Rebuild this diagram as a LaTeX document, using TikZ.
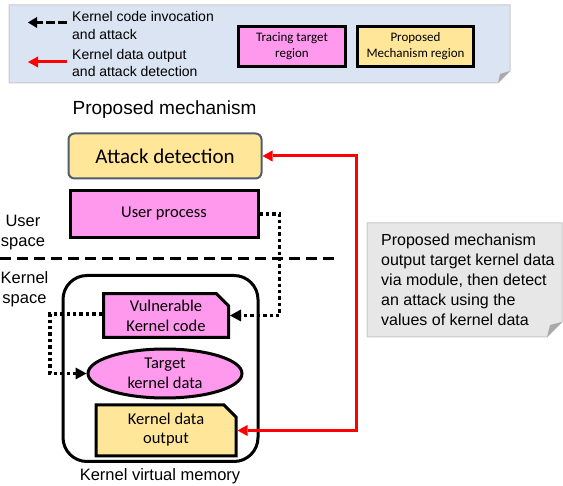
\documentclass[tikz,border=0pt]{standalone}
\usepackage{fontspec}
\setmainfont{Liberation Sans}
\newfontfamily\boxfont{Carlito}
\usetikzlibrary{shapes.misc,shapes.geometric,arrows.meta}

\definecolor{tracepink}{RGB}{255,153,238}
\definecolor{mechyellow}{RGB}{255,230,153}
\definecolor{legendblue}{RGB}{219,228,243}
\definecolor{legendedge}{RGB}{200,200,200}
\definecolor{notegray}{RGB}{231,231,231}
\definecolor{noteedge}{RGB}{200,200,200}
\definecolor{foldgray}{RGB}{170,170,170}
\definecolor{slateedge}{RGB}{80,92,110}
\definecolor{arrowred}{RGB}{255,0,0}

\begin{document}
\begin{tikzpicture}[x=1pt,y=-1pt,
  tracebox/.style={draw=black, line width=3pt, fill=tracepink, inner sep=0pt, align=center},
  mechbox/.style={draw=black, line width=3pt, fill=mechyellow, inner sep=0pt, align=center},
  snipbox/.style={chamfered rectangle, chamfered rectangle corners=north east,
    chamfered rectangle xsep=6pt, chamfered rectangle ysep=6pt},
  invoke/.style={line width=3.6pt, dash pattern=on 3.4pt off 3pt,
    -{Triangle[length=11pt,width=12pt,line width=0pt]}},
  detect/.style={draw=arrowred, line width=3pt,
    {Triangle[length=10pt,width=11pt,line width=0pt]}-{Triangle[length=10pt,width=11pt,line width=0pt]}},
  label/.style={font=\fontsize{16.5}{20}\selectfont, align=center, inner sep=0pt},
]
\useasboundingbox (0,0) rectangle (563,486);

% ---------- legend panel ----------
\fill[legendblue] (9,5) -- (510,5) -- (510,71) -- (498,83) -- (9,83) -- cycle;
\draw[legendedge, line width=1pt] (9,5) -- (510,5) -- (510,71) -- (498,83) -- (9,83) -- cycle;
\fill[foldgray] (498,83) -- (510,71) -- (500,74) -- cycle;

\coordinate (lgA1) at (67,22.5);
\coordinate (lgA2) at (28,22.5);
\draw[line width=3pt, dash pattern=on 9pt off 3pt,
  -{Triangle[length=9pt,width=11pt,line width=0pt]}] (lgA1) -- (lgA2);
\node[anchor=north west, inner sep=0pt, align=left,
  font=\fontsize{14}{18}\selectfont] (lgT1) at (72,11) {Kernel code invocation\\and attack};

\coordinate (lgB1) at (67,62);
\coordinate (lgB2) at (28,62);
\draw[arrowred, line width=3pt,
  -{Triangle[length=10pt,width=11pt,line width=0pt]}] (lgB1) -- (lgB2);
\node[anchor=north west, inner sep=0pt, align=left,
  font=\fontsize{14}{17.5}\selectfont] (lgT2) at (72,49) {Kernel data output\\and attack detection};

\node[tracebox, minimum width=107pt, minimum height=40pt,
  font=\boxfont\fontsize{13}{16}\selectfont] (lgTrace) at (292,46.5) {Tracing target\\region};
\node[mechbox, minimum width=116pt, minimum height=40pt,
  font=\boxfont\fontsize{13}{16}\selectfont] (lgMech) at (415.5,46.5) {Proposed\\Mechanism region};

% ---------- proposed mechanism ----------
\node[inner sep=0pt, font=\fontsize{19}{22}\selectfont] (pmTitle) at (164.5,110) {Proposed mechanism};

\node[draw=slateedge, line width=2pt, fill=mechyellow, rounded corners=6pt,
  minimum width=193pt, minimum height=45pt, inner sep=0pt,
  font=\boxfont\fontsize{21}{24}\selectfont] (detect) at (165,156) {Attack detection};

\node[tracebox, minimum width=188pt, minimum height=47pt,
  font=\boxfont\fontsize{16.5}{19}\selectfont] (user) at (164,214) {User process};

% user / kernel boundary
\coordinate (bndL) at (0,258.5);
\coordinate (bndR) at (338,258.5);
\draw[line width=3pt, dash pattern=on 11pt off 6pt] (bndL) -- (bndR);

\node[label] (userlbl) at (23,233) {User\\space};
\node[label] (kernlbl) at (24.5,289) {Kernel\\space};

% ---------- kernel virtual memory ----------
\node[draw=black, line width=3pt, rounded corners=24pt,
  minimum width=195pt, minimum height=186pt, inner sep=0pt] (kvm) at (160.5,368.5) {};
\node[label, font=\fontsize{16.5}{19}\selectfont] (kvmlbl) at (160,476) {Kernel virtual memory};

\node[tracebox, snipbox, minimum width=125pt, minimum height=40pt,
  font=\boxfont\fontsize{16.5}{20}\selectfont] (vuln) at (166,315.5) {Vulnerable\\Kernel code};

\node[draw=black, line width=3pt, fill=tracepink, ellipse, inner sep=0pt,
  minimum width=154pt, minimum height=49pt, align=center,
  font=\boxfont\fontsize{16.5}{20}\selectfont] (target) at (165,373.5) {Target\\kernel data};

\node[mechbox, snipbox, minimum width=140pt, minimum height=42pt,
  font=\boxfont\fontsize{16.5}{20}\selectfont] (kout) at (166,430.5) {\raisebox{-2pt}{\begin{tabular}{@{}c@{}}Kernel data\\[-1pt]output\end{tabular}}};

% ---------- connectors ----------
\coordinate (userTurn) at (279.5,214);
\draw[invoke] (user.east) -- (userTurn) |- (vuln.east);

\coordinate (vulnTurn) at (50,314);
\draw[invoke] (vuln.west |- vulnTurn) -- (vulnTurn) |- (target.west);

\coordinate (redTurn) at (356,156);
\draw[detect] (detect.east) -- (redTurn) |- (kout.east);

% ---------- explanatory note ----------
\fill[notegray] (367,223) -- (562,223) -- (562,322) -- (547,337) -- (367,337) -- cycle;
\draw[noteedge, line width=1pt] (367,223) -- (562,223) -- (562,322) -- (547,337) -- (367,337) -- cycle;
\fill[foldgray] (547,337) -- (562,322) -- (550,325) -- cycle;
\node[anchor=north west, inner sep=0pt, align=left,
  font=\fontsize{16}{20}\selectfont] (note) at (381,234)
  {Proposed mechanism\\output target kernel data\\via module, then detect\\an attack using the\\values of kernel data};
\end{tikzpicture}
\end{document}
